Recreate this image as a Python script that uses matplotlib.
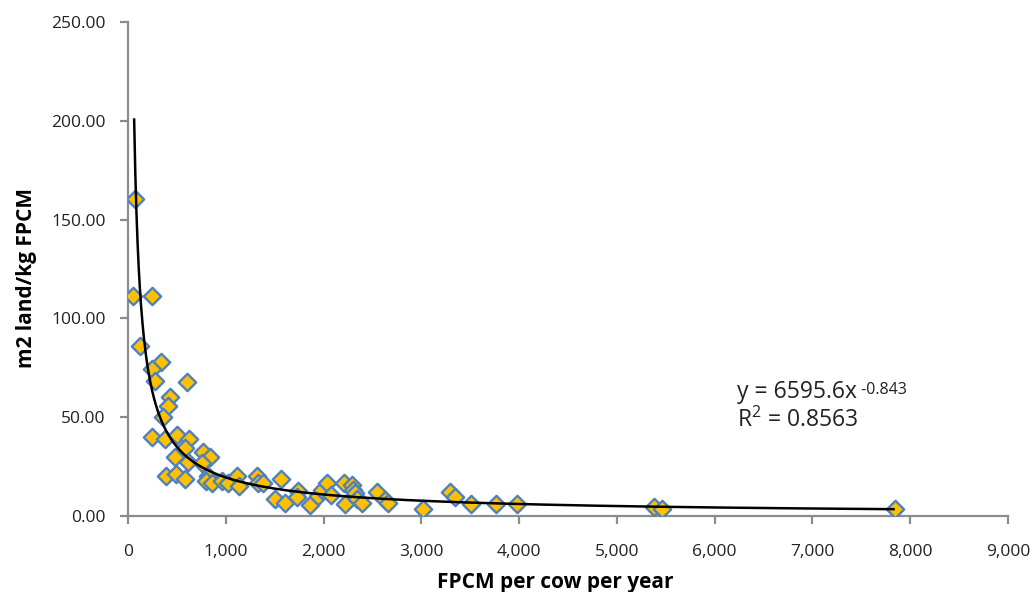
import matplotlib
matplotlib.use("Agg")
import matplotlib.pyplot as plt
import numpy as np
from matplotlib.ticker import FuncFormatter, MultipleLocator

plt.rcParams['font.family'] = ['Open Sans', 'DejaVu Sans']
plt.rcParams['mathtext.default'] = 'regular'

# Data
fpcm_per_cow = [72, 51, 245, 123, 334, 242, 276, 600, 430, 412, 361, 242, 378, 504,
                621, 583, 484, 611, 764, 839, 754, 389, 491, 580, 821, 798, 856, 958,
                1026, 1112, 1138, 1316, 1333, 1384, 1562, 1503, 1606, 1742, 1725, 1861,
                1946, 1981, 2032, 2073, 2212, 2288, 2304, 2322, 2219, 2339, 2390, 2544,
                2628, 2662, 3293, 3344, 3014, 3505, 3764, 3975, 5380, 5458, 7844]
land_per_kg = [160.4, 111.3, 111.3, 86.0, 78.1, 74.4, 68.5, 67.7, 60.1, 55.7, 50.0, 39.8,
               38.8, 41.0, 38.8, 34.3, 29.7, 27.2, 32.2, 29.7, 26.7, 20.2, 21.3, 18.6,
               20.2, 17.9, 16.5, 17.6, 16.9, 20.2, 15.2, 20.2, 16.5, 16.9, 18.9, 8.5,
               6.4, 12.8, 9.5, 5.6, 10.1, 13.2, 16.5, 10.6, 16.5, 15.7, 13.2, 11.5, 6.1,
               8.5, 6.7, 12.0, 8.1, 6.4, 12.0, 9.5, 3.5, 5.9, 5.9, 5.9, 4.7, 3.5, 3.5]

# Power trendline coefficients (from chart annotation)
trend_a = 6595.6
trend_b = -0.843
trend_r2 = 0.8563
trend_x_range = [63, 7830]

fig = plt.figure(figsize=(10.33, 5.92), dpi=100)
ax = fig.add_axes([0.1239, 0.1284, 0.8519, 0.8344])

ax.scatter(fpcm_per_cow, land_per_kg, marker='D', s=78, facecolor='#FFC000',
           edgecolor='#4F81BD', linewidth=1.7, zorder=3)

tx = np.linspace(trend_x_range[0], trend_x_range[1], 2000)
ax.plot(tx, trend_a * tx ** trend_b, color='black', lw=1.8, zorder=4)

ax.set_xlim(0, 9000)
ax.set_ylim(0, 250)
ax.xaxis.set_major_locator(MultipleLocator(1000))
ax.yaxis.set_major_locator(MultipleLocator(50))
ax.xaxis.set_major_formatter(FuncFormatter(lambda v, p: f"{int(v):,}"))
ax.yaxis.set_major_formatter(FuncFormatter(lambda v, p: f"{v:.2f}"))

for s in ['top', 'right']:
    ax.spines[s].set_visible(False)
for s in ['left', 'bottom']:
    ax.spines[s].set_color('#8C8C8C')
    ax.spines[s].set_linewidth(1.6)
ax.tick_params(axis='both', direction='out', length=6, width=1.6, color='#8C8C8C',
               labelsize=12.5, labelcolor='#222222')
ax.tick_params(axis='x', pad=14)
ax.tick_params(axis='y', pad=10)

ax.set_xlabel('FPCM per cow per year', fontsize=15, fontweight='bold')
ax.set_ylabel('m2 land/kg FPCM', fontsize=15, fontweight='bold')
ax.xaxis.set_label_coords(0.485, -0.1356)
ax.xaxis.label.set_va('center')
ax.yaxis.set_label_coords(-0.1148, 0.482)
ax.yaxis.label.set_va('center')

t1 = ax.text(6228, 59.7, f"y = {trend_a}x", fontsize=16.5, color='#222222',
             va='baseline', ha='left')
ax.annotate(f" {trend_b}", xy=(1.0, 0.42), xycoords=t1, fontsize=11.5,
            color='#222222', va='baseline', ha='left')
ax.text(6228, 45.0, f"R$^2$ = {trend_r2}", fontsize=16.5, color='#222222',
        va='baseline', ha='left')

fig.savefig('out.png', dpi=100)
